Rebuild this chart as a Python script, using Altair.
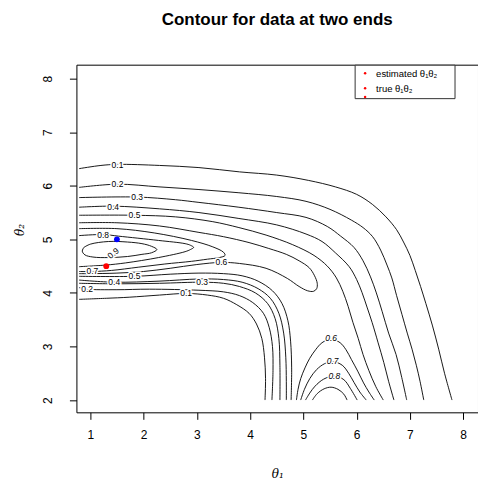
import altair as alt
import pandas as pd

# ---- contour paths (theta1, theta2), one list per drawn piece ----
upper_01 = [(0.79,6.32),(1.2,6.38),(1.51,6.40),(2.3,6.38),(3.04,6.34),(3.8,6.26),(4.5,6.20),(5.1,6.10),
            (5.6,5.98),(6.0,5.84),(6.3,5.65),(6.55,5.42),(6.75,5.18),(6.88,4.95),(7.0,4.70),(7.1,4.42),
            (7.2,4.12),(7.3,3.80),(7.42,3.40),(7.54,2.95),(7.65,2.50),(7.79,2.00)]
upper_02 = [(0.79,5.97),(1.51,6.03),(2.29,5.98),(3.04,5.93),(3.79,5.87),(4.5,5.80),(5.05,5.71),(5.5,5.56),
            (5.9,5.36),(6.12,5.22),(6.3,5.05),(6.45,4.80),(6.57,4.52),(6.66,4.28),(6.75,3.95),(6.85,3.60),
            (6.95,3.25),(7.04,2.95),(7.12,2.65),(7.19,2.35),(7.26,2.00)]
upper_03 = [(0.79,5.78),(1.88,5.79),(2.6,5.74),(3.04,5.69),(3.79,5.60),(4.5,5.50),(5.05,5.41),(5.45,5.24),
            (5.7,5.06),(5.95,4.85),(6.12,4.60),(6.26,4.30),(6.37,4.00),(6.48,3.65),(6.6,3.25),(6.74,2.85),
            (6.84,2.45),(6.94,2.00)]
upper_04 = [(0.79,5.60),(1.43,5.62),(2.3,5.57),(3.04,5.50),(3.79,5.39),(4.5,5.27),(5.05,5.10),(5.35,4.96),
            (5.6,4.75),(5.86,4.49),(6.0,4.25),(6.10,4.01),(6.2,3.72),(6.29,3.45),(6.4,3.08),(6.51,2.70),
            (6.6,2.35),(6.70,2.00)]
upper_05 = [(0.79,5.45),(1.83,5.45),(2.6,5.42),(3.3,5.33),(3.79,5.22),(4.3,5.08),(4.8,4.90),(5.2,4.70),
            (5.45,4.50),(5.62,4.28),(5.74,4.03),(5.84,3.75),(5.93,3.45),(6.03,3.15),(6.12,2.85),(6.23,2.55),
            (6.36,2.25),(6.50,2.00)]
tongue_06 = [(0.79,5.31),(1.5,5.31),(2.3,5.25),(3.04,5.13),(3.5,5.05),(3.98,4.94),(4.35,4.83),(4.68,4.72),
             (4.92,4.60),(5.11,4.47),(5.21,4.32),(5.26,4.18),(5.25,4.08),(5.19,4.03),(5.08,4.04),(4.92,4.12),
             (4.7,4.27),(4.3,4.46),(3.8,4.55),(3.46,4.57),(3.0,4.53),(2.5,4.46),(2.0,4.40),(1.5,4.37),
             (1.0,4.36),(0.79,4.36)]
loop_07 = [(0.79,5.20),(1.5,5.20),(2.2,5.12),(2.9,4.98),(3.3,4.86),(3.5,4.76),(3.53,4.70),(3.42,4.66),
           (3.2,4.63),(2.9,4.59),(2.4,4.54),(1.9,4.48),(1.4,4.42),(1.04,4.40),(0.79,4.40)]
loop_08 = [(0.79,5.07),(1.24,5.09),(1.53,5.06),(2.28,4.98),(2.78,4.92),(2.88,4.89),(2.94,4.85),(2.88,4.81),
           (2.78,4.77),(2.28,4.66),(1.66,4.56),(1.29,4.52),(0.79,4.49)]
loop_09 = [(0.88,4.85),(1.0,4.91),(1.34,4.96),(1.7,4.95),(1.97,4.92),(2.15,4.87),(2.25,4.81),(2.15,4.75),
           (1.97,4.72),(1.7,4.68),(1.34,4.66),(1.05,4.67),(0.9,4.71),(0.85,4.78),(0.88,4.85)]
lower_05 = [(0.79,4.31),(1.83,4.31),(2.5,4.35),(3.04,4.37),(3.5,4.36),(3.85,4.32),(4.15,4.22),(4.42,4.04),
            (4.6,3.80),(4.71,3.48),(4.76,3.10),(4.78,2.60),(4.77,2.00)]
lower_04 = [(0.79,4.24),(1.45,4.20),(2.29,4.22),(3.04,4.26),(3.5,4.25),(3.85,4.20),(4.15,4.08),(4.38,3.90),
            (4.54,3.62),(4.63,3.25),(4.67,2.80),(4.68,2.35),(4.68,2.00)]
lower_03 = [(0.79,4.18),(1.5,4.17),(2.3,4.18),(3.10,4.20),(3.5,4.18),(3.8,4.12),(4.1,4.00),(4.33,3.80),
            (4.47,3.52),(4.54,3.15),(4.56,2.65),(4.56,2.00)]
lower_02 = [(0.79,4.10),(0.94,4.07),(1.5,4.06),(2.11,4.07),(3.04,4.05),(3.5,4.02),(3.8,3.95),(4.05,3.82),
            (4.25,3.62),(4.36,3.35),(4.42,3.00),(4.43,2.55),(4.41,2.00)]
lower_01 = [(0.79,3.88),(1.3,3.90),(1.73,3.92),(2.3,3.96),(2.80,3.99),(3.2,3.96),(3.5,3.90),(3.75,3.78),
            (3.98,3.62),(4.12,3.42),(4.22,3.15),(4.27,2.80),(4.29,2.40),(4.28,2.00)]
arc_06 = [(4.87,2.00),(4.90,2.20),(4.95,2.40),(5.03,2.60),(5.12,2.78),(5.23,2.94),(5.35,3.07),(5.52,3.14),
          (5.69,3.07),(5.80,2.94),(5.90,2.76),(6.02,2.54),(6.13,2.32),(6.23,2.15),(6.33,2.00)]
arc_07 = [(4.95,2.00),(5.02,2.20),(5.12,2.40),(5.25,2.57),(5.40,2.68),(5.55,2.72),(5.73,2.65),(5.85,2.50),
          (5.95,2.33),(6.06,2.15),(6.18,2.00)]
arc_08 = [(5.04,2.00),(5.12,2.13),(5.22,2.26),(5.38,2.39),(5.58,2.45),(5.76,2.38),(5.88,2.22),(6.01,2.00)]
arc_09 = [(5.17,2.00),(5.26,2.12),(5.39,2.21),(5.52,2.24),(5.65,2.20),(5.76,2.11),(5.82,2.00)]

pieces = {
    "upper_01": upper_01, "upper_02": upper_02, "upper_03": upper_03, "upper_04": upper_04,
    "upper_05": upper_05, "tongue_06": tongue_06, "loop_07": loop_07, "loop_08": loop_08,
    "loop_09": loop_09, "lower_05": lower_05, "lower_04": lower_04, "lower_03": lower_03,
    "lower_02": lower_02, "lower_01": lower_01, "arc_06": arc_06, "arc_07": arc_07,
    "arc_08": arc_08, "arc_09": arc_09,
}

# ---- contour labels ----
label_text = ["0.1", "0.2", "0.3", "0.4", "0.5", "0.8", "0.9", "0.7", "0.5", "0.4", "0.2", "0.3", "0.1", "0.6"]
label_t1 = [1.51, 1.51, 1.88, 1.43, 1.83, 1.24, 1.43, 1.04, 1.83, 1.45, 0.94, 3.10, 2.80, 3.46]
label_t2 = [6.39, 6.03, 5.79, 5.61, 5.45, 5.09, 4.74, 4.40, 4.31, 4.21, 4.07, 4.20, 3.99, 4.57]
label_angle = [0, 0, 0, 0, 0, 0, 320, 0, 0, 0, 0, 0, 0, 0]

peak_text = ["0.6", "0.7", "0.8"]
peak_t1 = [5.52, 5.55, 5.58]
peak_t2 = [3.15, 2.72, 2.45]

# ---- estimated and true parameter values ----
point_kind = ["estimated", "true"]
point_t1 = [1.5, 1.3]
point_t2 = [5.0, 4.5]
point_color = ["#0000FF", "#FF0000"]

legend_labels = ["estimated θ₁θ₂", "true  θ₁θ₂"]

x_ticks = [1, 2, 3, 4, 5, 6, 7, 8]
y_ticks = [2, 3, 4, 5, 6, 7, 8]

FONT = "Liberation Sans"

rows = []
for name, pts in pieces.items():
    for i, (a, b) in enumerate(pts):
        rows.append({"piece": name, "i": i, "theta1": a, "theta2": b})
lines_df = pd.DataFrame(rows)

labels_df = pd.DataFrame({"text": label_text, "theta1": label_t1, "theta2": label_t2, "angle": label_angle})
peaks_df = pd.DataFrame({"text": peak_text, "theta1": peak_t1, "theta2": peak_t2})
points_df = pd.DataFrame({"kind": point_kind, "theta1": point_t1, "theta2": point_t2})

x_scale = alt.Scale(domain=[0.74, 8.278], nice=False, zero=False)
y_scale = alt.Scale(domain=[1.771, 8.261], nice=False, zero=False)

x_enc = alt.X("theta1:Q", scale=x_scale, axis=alt.Axis(
    values=x_ticks, title="θ₁", format="d", grid=False, domain=False,
    tickSize=7, tickColor="black", tickWidth=1, labelFlush=False, labelOverlap=False,
    labelFont=FONT, labelFontSize=12, labelColor="black", labelPadding=10, labelBaseline="top",
    titleFont="DejaVu Serif", titleFontStyle="italic", titleFontWeight="normal", titleFontSize=12,
    titleColor="black", titleY=61, titleBaseline="middle"))
y_enc = alt.Y("theta2:Q", scale=y_scale, axis=alt.Axis(
    values=y_ticks, title="θ₂", format="d", grid=False, domain=False,
    tickSize=7, tickColor="black", tickWidth=1, labelFlush=False, labelOverlap=False,
    labelFont=FONT, labelFontSize=12, labelColor="black", labelAngle=270, labelAlign="center",
    labelBaseline="alphabetic", labelPadding=18,
    titleFont="DejaVu Serif", titleFontStyle="italic", titleFontWeight="normal", titleFontSize=12,
    titleColor="black", titleAngle=270, titleX=-57, titleY=165, titleBaseline="middle", titleAlign="center"))

lines = alt.Chart(lines_df).mark_line(color="black", strokeWidth=0.9, interpolate="catmull-rom").encode(
    x=x_enc, y=y_enc, detail="piece:N", order="i:Q")

halo = alt.Chart(labels_df).mark_text(font=FONT, fontSize=8.5, color="white", stroke="white",
                                      strokeWidth=3).encode(
    x="theta1:Q", y="theta2:Q", text="text:N", angle=alt.Angle("angle:Q", scale=None))
labels = alt.Chart(labels_df).mark_text(font=FONT, fontSize=8.5, color="black").encode(
    x="theta1:Q", y="theta2:Q", text="text:N", angle=alt.Angle("angle:Q", scale=None))

peak_halo = alt.Chart(peaks_df).mark_text(font=FONT, fontSize=8.5, fontStyle="italic", color="white",
                                          stroke="white", strokeWidth=3).encode(
    x="theta1:Q", y="theta2:Q", text="text:N")
peak_labels = alt.Chart(peaks_df).mark_text(font=FONT, fontSize=8.5, fontStyle="italic", color="black").encode(
    x="theta1:Q", y="theta2:Q", text="text:N")

points = alt.Chart(points_df).mark_point(filled=True, size=34, opacity=1).encode(
    x="theta1:Q", y="theta2:Q",
    color=alt.Color("kind:N", scale=alt.Scale(domain=point_kind, range=point_color), legend=None))

# legend box in the top-right corner of the panel
one = alt.Data(values=[{"k": 1}])
legend_box = alt.Chart(one).mark_rect(fill="white", stroke="#333333", strokeWidth=1).encode(
    x=alt.value(279), x2=alt.value(379), y=alt.value(0.5), y2=alt.value(34))
legend_layers = [legend_box]
for k, y_px in enumerate([8.5, 23.5, 32.3]):
    legend_layers.append(alt.Chart(one).mark_point(filled=True, size=6, color="#FF0000", opacity=1).encode(
        x=alt.value(289), y=alt.value(y_px)))
for k, (lab, y_px) in enumerate(zip(legend_labels, [9.5, 24])):
    legend_layers.append(alt.Chart(alt.Data(values=[{"t": lab}])).mark_text(
        font=FONT, fontSize=9.5, color="black", align="left", baseline="middle").encode(
        x=alt.value(300), y=alt.value(y_px), text="t:N"))

chart = alt.layer(lines, halo, labels, peak_halo, peak_labels, points, *legend_layers).properties(
    width=402, height=348,
    padding={"left": 76.5, "top": 64.5, "right": 0, "bottom": 71},
    autosize=alt.AutoSizeParams(type="none"),
    title=alt.TitleParams("Contour for data at two ends", font=FONT, fontSize=17, fontWeight="bold",
                          color="black", anchor="middle", frame="group", offset=23, baseline="alphabetic"),
).configure(
    background="white",
    view=alt.ViewConfig(stroke="black", strokeWidth=1),
)

chart.save("out.html", embed_options={"renderer": "svg", "actions": False})
